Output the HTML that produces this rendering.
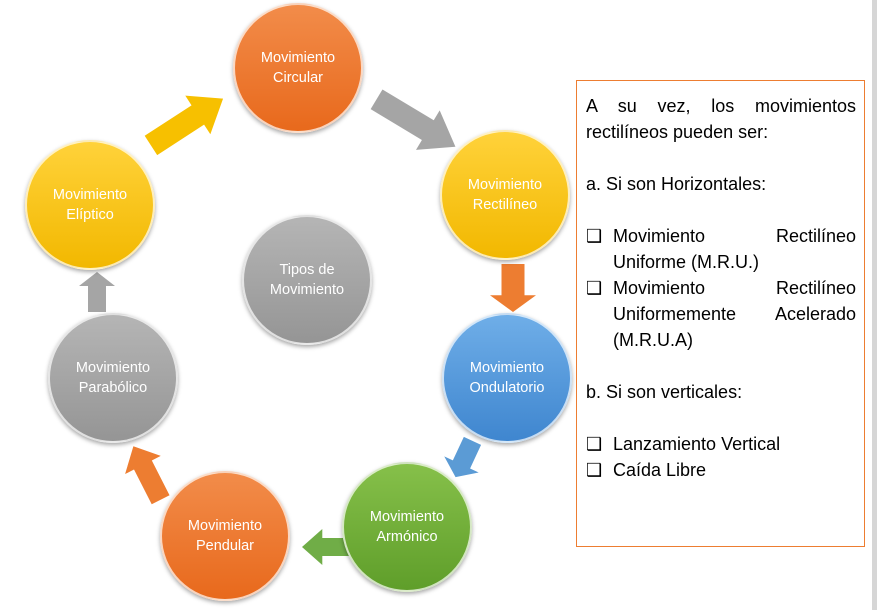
<!DOCTYPE html>
<html><head><meta charset="utf-8"><style>
body{margin:0;width:877px;height:610px;background:#fff;position:relative;overflow:hidden;font-family:"Liberation Sans",sans-serif}
.c{position:absolute;width:130px;height:130px;border-radius:50%;display:flex;align-items:center;justify-content:center;text-align:center;color:#fff;font-size:14.5px;line-height:20px;box-sizing:border-box;border:2px solid rgba(255,255,255,0.7);box-shadow:0 2px 4px rgba(0,0,0,0.35)}
.o{background:linear-gradient(#f28c4a,#e8691c)}
.y{background:linear-gradient(#ffd23a,#f2b800)}
.b{background:linear-gradient(#6faee8,#3f86cf)}
.g{background:linear-gradient(#86c04a,#5f9e2a)}
.gr{background:linear-gradient(#b5b5b5,#959595)}
#box{position:absolute;left:576px;top:80px;width:289px;height:467px;border:1px solid #ed7d31;box-sizing:border-box;padding:12px 8px 0 9px;font-size:18px;line-height:26px;color:#000;text-align:justify}
#box p{margin:0}
.li{position:relative;padding-left:27px}
.li span{position:absolute;left:0;top:0}
#bar{position:absolute;left:872px;top:0;width:5px;height:610px;background:#d6d6d6}
</style></head><body>
<svg width="877" height="610" style="position:absolute;left:0;top:0">
<defs>
<polygon id="ar" points="-0.5,-0.25 0.15,-0.25 0.15,-0.5 0.5,0 0.15,0.5 0.15,0.25 -0.5,0.25"/>
</defs>
<g transform="translate(187,122) rotate(-33) scale(86,46)"><use href="#ar" fill="#f7c000"/></g>
<g transform="translate(416,123) rotate(31) scale(92,46)"><use href="#ar" fill="#a5a5a5"/></g>
<g transform="translate(513,288) rotate(90) scale(48,46)"><use href="#ar" fill="#ed7d31"/></g>
<g transform="translate(464,459) rotate(115) scale(40,38)"><use href="#ar" fill="#5b9bd5"/></g>
<g transform="translate(331,547) rotate(180) scale(58,36)"><use href="#ar" fill="#70ad47"/></g>
<g transform="translate(147,473) rotate(-117) scale(60,40)"><use href="#ar" fill="#ed7d31"/></g>
<g transform="translate(97,292) rotate(-90) scale(40,36)"><use href="#ar" fill="#a5a5a5"/></g>
</svg>
<div class="c o" style="left:233px;top:3px">Movimiento<br>Circular</div>
<div class="c y" style="left:440px;top:130px">Movimiento<br>Rectilíneo</div>
<div class="c b" style="left:442px;top:313px">Movimiento<br>Ondulatorio</div>
<div class="c g" style="left:342px;top:462px">Movimiento<br>Armónico</div>
<div class="c o" style="left:160px;top:471px">Movimiento<br>Pendular</div>
<div class="c gr" style="left:48px;top:313px">Movimiento<br>Parabólico</div>
<div class="c y" style="left:25px;top:140px">Movimiento<br>Elíptico</div>
<div class="c gr" style="left:242px;top:215px">Tipos de<br>Movimiento</div>
<div id="box">
<p>A su vez, los movimientos rectilíneos pueden ser:</p>
<p>&nbsp;</p>
<p>a. Si son Horizontales:</p>
<p>&nbsp;</p>
<p class="li"><span>❑</span>Movimiento Rectilíneo Uniforme (M.R.U.)</p>
<p class="li"><span>❑</span>Movimiento Rectilíneo Uniformemente Acelerado (M.R.U.A)</p>
<p>&nbsp;</p>
<p>b. Si son verticales:</p>
<p>&nbsp;</p>
<p class="li"><span>❑</span>Lanzamiento Vertical</p>
<p class="li"><span>❑</span>Caída Libre</p>
</div>
<div id="bar"></div>
</body></html>
